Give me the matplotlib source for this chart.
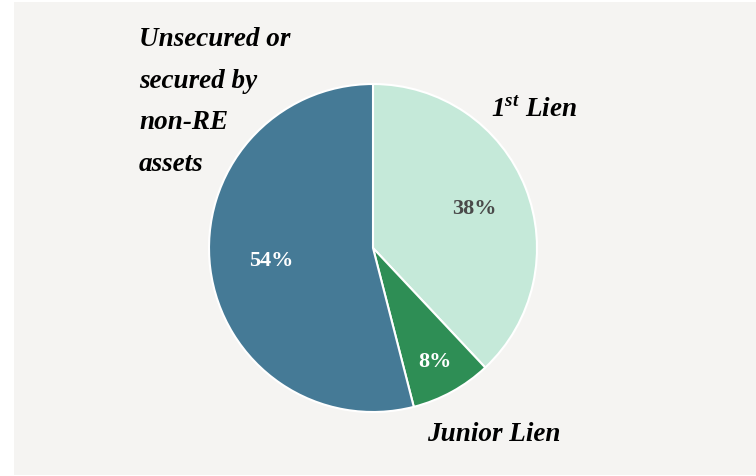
import matplotlib
matplotlib.use('Agg')
import matplotlib.pyplot as plt
from matplotlib.patches import Rectangle

# data
labels = ['1st Lien', 'Junior Lien', 'Unsecured or secured by non-RE assets']
shares = [38, 8, 54]
pct_text = ['38%', '8%', '54%']
colors = ['#c5e9d9', '#2e8e55', '#457a96']
pct_colors = ['#4a4a4a', 'white', 'white']

W, H = 756, 477
fig = plt.figure(figsize=(W / 100, H / 100), dpi=100)
fig.patch.set_facecolor('white')
fig.patches.append(Rectangle((14 / W, 1 / H), (W - 14) / W, (H - 4) / H,
                             transform=fig.transFigure, facecolor='#f5f4f2',
                             edgecolor='none', zorder=-5))

cx, cy, r = 373, 249, 164
ax = fig.add_axes([(cx - r) / W, (H - cy - r) / H, 2 * r / W, 2 * r / H])
ax.set_facecolor('none')
ax.set_zorder(2)
wedges, _ = ax.pie(shares, colors=colors, startangle=90, counterclock=False,
                   radius=1, wedgeprops=dict(edgecolor='white', linewidth=1.5))
ax.set_xlim(-1.0, 1.0)
ax.set_ylim(-1.0, 1.0)
ax.set_aspect('equal')
ax.axis('off')

font = dict(family='Liberation Serif', fontweight='bold')

# percent labels, pixel positions
pct_pos = [(474, 209), (435, 362), (271, 261)]
for t, c, (px, py) in zip(pct_text, pct_colors, pct_pos):
    fig.text(px / W, 1 - py / H, t, color=c, fontsize=16, ha='center', va='center',
             zorder=5, **font)

# category labels
lines = ['Unsecured or', 'secured by', 'non-RE', 'assets']
for i, ln in enumerate(lines):
    fig.text(139 / W, 1 - (40 + i * 41.5) / H, ln, fontsize=19.5, style='italic',
             ha='left', va='center', **font)
fig.text(491 / W, 1 - 110 / H, r'1$^{\mathregular{st}}$ Lien', fontsize=19.5, style='italic',
         ha='left', va='center', **font)
fig.text(427 / W, 1 - 435 / H, 'Junior Lien', fontsize=19.5, style='italic',
         ha='left', va='center', **font)

fig.savefig('out.png', dpi=100)
